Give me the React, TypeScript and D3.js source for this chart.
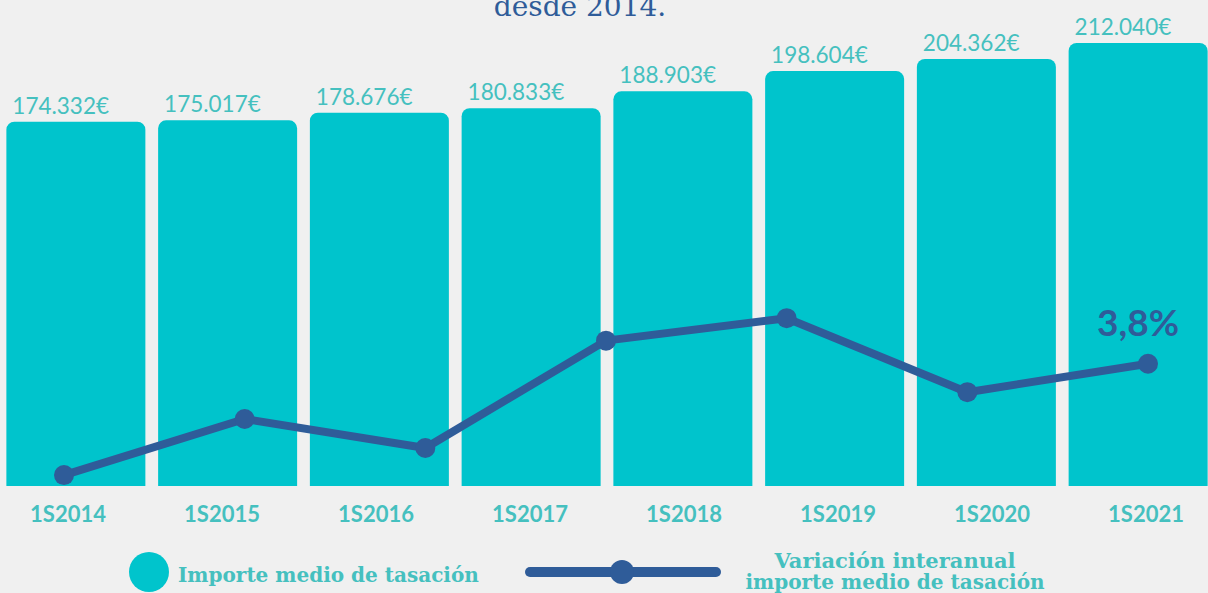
import React from "react";
import * as d3 from "d3";

const categories = ["1S2014", "1S2015", "1S2016", "1S2017", "1S2018", "1S2019", "1S2020", "1S2021"];
const importeValues = [174332, 175017, 178676, 180833, 188903, 198604, 204362, 212040];
const variationCategories = ["1S2015", "1S2016", "1S2017", "1S2018", "1S2019", "1S2020", "1S2021"];
const variationValues = [0.39, 2.09, 1.21, 4.46, 5.14, 2.9, 3.76];
const titleText = "desde 2014.";
const legendBar = "Importe medio de tasación";
const legendLine = ["Variación interanual", "importe medio de tasación"];

const W = 1208;
const H = 593;
const BG = "#f0f0f0";
const BAR = "#00c4cc";
const TEAL_TEXT = "#45c0bf";
const BLUE = "#2f5c99";

const locale = d3.formatLocale({ decimal: ",", thousands: ".", grouping: [3], currency: ["", "€"] });
const fmtEuro = locale.format("$,");
const fmtPct = (v: number) => locale.format(".1f")(v) + "%";

function topRoundedBar(x: number, y: number, w: number, h: number, r: number) {
  const p = d3.path();
  p.moveTo(x, y + h);
  p.lineTo(x, y + r);
  p.arcTo(x, y, x + r, y, r);
  p.lineTo(x + w - r, y);
  p.arcTo(x + w, y, x + w, y + r, r);
  p.lineTo(x + w, y + h);
  p.closePath();
  return p.toString();
}

export default function App() {
  const xBar = d3.scaleBand<string>().domain(categories).range([0, 1214]).paddingInner(0.084).paddingOuter(0.042);
  const xLabel = d3.scalePoint<string>().domain(categories).range([68, 1146]);
  const yBar = d3.scaleLinear().domain([0, 232600]).range([486, 0]);
  const xLine = d3.scalePoint<string>().domain(variationCategories).range([64, 1148]);
  const yLine = d3.scaleLinear().domain([0, 14.77]).range([488, 0]);

  const lineGen = d3
    .line<number>()
    .x((_, i) => xLine(variationCategories[i]) as number)
    .y((d) => yLine(d));

  const lastIdx = variationValues.length - 1;
  const lastX = xLine(variationCategories[lastIdx]) as number;
  const lastY = yLine(variationValues[lastIdx]);

  return (
    <svg
      width={W}
      height={H}
      style={{ position: "absolute", left: 0, top: 0, display: "block", background: BG }}
    >
      <rect x={0} y={0} width={W} height={H} fill={BG} />
      <text
        x={580}
        y={16}
        textAnchor="middle"
        fill={BLUE}
        fontFamily="DejaVu Serif, serif"
        fontSize={28}
      >
        {titleText}
      </text>

      {importeValues.map((v, i) => {
        const x = xBar(categories[i]) as number;
        const w = xBar.bandwidth();
        const y = yBar(v);
        return (
          <g key={categories[i]}>
            <path d={topRoundedBar(x, y, w, yBar(0) - y, 8)} fill={BAR} />
            <text
              x={x + 6}
              y={y - 8}
              fill={TEAL_TEXT}
              fontFamily="Lato, sans-serif"
              fontWeight={400}
              fontSize={22.5}
            >
              {fmtEuro(v)}
            </text>
          </g>
        );
      })}

      {categories.map((c) => (
        <text
          key={c}
          x={xLabel(c)}
          y={522}
          textAnchor="middle"
          fill={TEAL_TEXT}
          fontFamily="Lato, sans-serif"
          fontWeight={700}
          fontSize={22}
        >
          {c}
        </text>
      ))}

      <path
        d={lineGen(variationValues) || ""}
        fill="none"
        stroke={BLUE}
        strokeWidth={8}
        strokeLinejoin="round"
      />
      {variationValues.map((v, i) => (
        <circle key={i} cx={xLine(variationCategories[i])} cy={yLine(v)} r={10} fill={BLUE} />
      ))}
      <text
        x={lastX - 10}
        y={lastY - 28}
        textAnchor="middle"
        fill={BLUE}
        fontFamily="Lato, sans-serif"
        fontWeight={700}
        fontSize={37}
      >
        {fmtPct(variationValues[lastIdx])}
      </text>

      {/* Legend */}
      <circle cx={149} cy={572} r={20} fill={BAR} />
      <text
        x={178}
        y={582}
        fill={TEAL_TEXT}
        fontFamily="DejaVu Serif, serif"
        fontWeight={700}
        fontSize={20}
      >
        {legendBar}
      </text>
      <line x1={530} y1={572} x2={716} y2={572} stroke={BLUE} strokeWidth={10} strokeLinecap="round" />
      <circle cx={622} cy={572} r={12} fill={BLUE} />
      {legendLine.map((t, i) => (
        <text
          key={t}
          x={895}
          y={568 + i * 21}
          textAnchor="middle"
          fill={TEAL_TEXT}
          fontFamily="DejaVu Serif, serif"
          fontWeight={700}
          fontSize={i === 0 ? 21 : 20}
        >
          {t}
        </text>
      ))}
    </svg>
  );
}
